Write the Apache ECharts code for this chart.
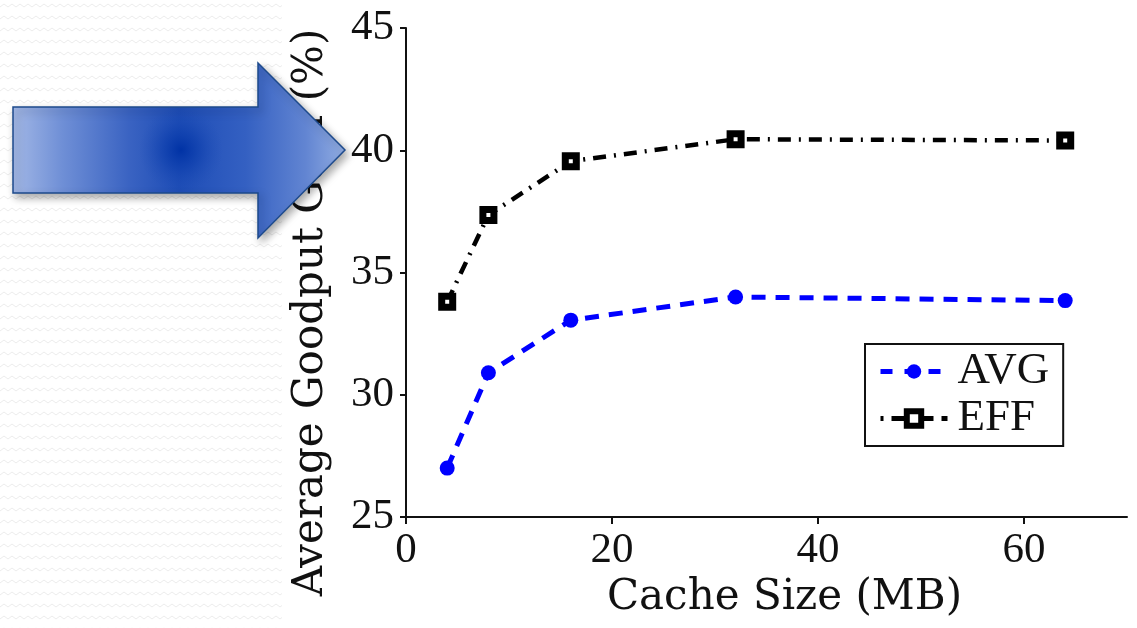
<!DOCTYPE html>
<html>
<head>
<meta charset="utf-8">
<title>Average Goodput Gain vs Cache Size</title>
<script src="https://cdn.jsdelivr.net/npm/echarts@6/dist/echarts.min.js"></script>
<style>
  html, body { margin: 0; padding: 0; background: #ffffff; }
  #wrap { position: relative; width: 1137px; height: 628px; }
  #texture {
    position: absolute; left: 0; top: 0; width: 282px; height: 628px;
    background-image: url("data:image/svg+xml;utf8,<svg xmlns='http://www.w3.org/2000/svg' width='8' height='12'><polyline points='0,7 4,4 8,7' fill='none' stroke='%23ececec' stroke-width='1'/></svg>");
    background-repeat: repeat;
  }
  #chart { position: absolute; left: 0; top: 0; width: 1137px; height: 628px; }
</style>
</head>
<body>
<div id="wrap">
  <div id="texture"></div>
  <div id="chart"></div>
</div>
<script>
// Cache sizes (MB) on the x axis
var cacheSizes = [4, 8, 16, 32, 64];
// Average goodput gain (%) per policy
var avgGain = [27.0, 30.9, 33.05, 34.0, 33.85];
var effGain = [33.8, 37.35, 39.55, 40.45, 40.4];
// Axis tick values
var xTicks = [0, 20, 40, 60];
var yTicks = [25, 30, 35, 40, 45];

function pairs(xs, ys) {
  return xs.map(function (x, i) { return [x, ys[i]]; });
}

var serif = 'Liberation Serif';
var nameFont = 'DejaVu Serif';

var chart = echarts.init(document.getElementById('chart'), null, { renderer: 'canvas' });

chart.setOption({
  backgroundColor: 'transparent',
  animation: false,
  grid: { left: 406, right: 10, top: 28, bottom: 111, containLabel: false },
  xAxis: {
    type: 'value',
    min: 0,
    max: 70,
    name: 'Cache Size (MB)',
    nameLocation: 'middle',
    nameGap: 50,
    nameTextStyle: { fontFamily: nameFont, fontSize: 42, color: '#111', padding: [0, 0, 0, 36] },
    axisLine: { show: true, lineStyle: { color: '#111', width: 2 } },
    axisTick: { show: true, length: 7, lineStyle: { color: '#111', width: 2 }, customValues: xTicks },
    axisLabel: { fontFamily: serif, fontSize: 43, color: '#111', margin: 12, customValues: xTicks },
    splitLine: { show: false }
  },
  yAxis: {
    type: 'value',
    min: yTicks[0],
    max: yTicks[yTicks.length - 1],
    interval: 5,
    name: 'Average Goodput Gain (%)',
    nameLocation: 'middle',
    nameRotate: 90,
    nameGap: 74,
    nameTextStyle: { fontFamily: nameFont, fontSize: 42, color: '#111', padding: [0, 80, 0, 0] },
    axisLine: { show: true, lineStyle: { color: '#111', width: 2 } },
    axisTick: { show: true, length: 6, lineStyle: { color: '#111', width: 2 } },
    axisLabel: { fontFamily: serif, fontSize: 43, color: '#111', margin: 12 },
    splitLine: { show: false }
  },
  legend: {
    orient: 'vertical',
    left: 865,
    top: 344,
    padding: [5, 14, 5, 13],
    itemGap: 2,
    itemWidth: 67,
    itemHeight: 18,
    borderColor: '#111',
    borderWidth: 2,
    backgroundColor: '#fff',
    textStyle: { fontFamily: serif, fontSize: 45, color: '#111', padding: [0, 0, 0, 5] },
    data: [
      {
        name: 'AVG',
        itemStyle: { color: '#0000ff' },
        lineStyle: { color: '#0000ff', width: 5, type: [12, 12] }
      },
      {
        name: 'EFF',
        itemStyle: { color: '#ffffff', borderColor: '#000000', borderWidth: 6 },
        lineStyle: { color: '#000000', width: 5, type: [3, 8, 14, 0] }
      }
    ]
  },
  series: [
    {
      name: 'AVG',
      type: 'line',
      data: pairs(cacheSizes, avgGain),
      symbol: 'circle',
      symbolSize: 15,
      itemStyle: { color: '#0000ff' },
      lineStyle: { color: '#0000ff', width: 5, type: [14, 10] }
    },
    {
      name: 'EFF',
      type: 'line',
      data: pairs(cacheSizes, effGain),
      symbol: 'rect',
      symbolSize: 11,
      itemStyle: { color: '#ffffff', borderColor: '#000000', borderWidth: 7 },
      lineStyle: { color: '#000000', width: 4.5, type: [13, 8, 2, 8] }
    }
  ],
  graphic: [
    {
      type: 'polygon',
      z: 100,
      shape: {
        points: [[13, 107], [258, 107], [258, 63], [345, 150], [258, 238], [258, 193], [13, 193]]
      },
      style: {
        fill: {
          type: 'linear', x: 0, y: 0, x2: 1, y2: 0,
          colorStops: [
            { offset: 0, color: '#a3b8e6' },
            { offset: 0.15, color: '#6f8fd6' },
            { offset: 0.35, color: '#3a63c2' },
            { offset: 0.5, color: '#1e4db6' },
            { offset: 0.7, color: '#3460c2' },
            { offset: 0.88, color: '#6285d2' },
            { offset: 1, color: '#93aee2' }
          ]
        },
        stroke: '#1d4a8c',
        lineWidth: 1.5,
        shadowBlur: 8,
        shadowOffsetX: 3,
        shadowOffsetY: 4,
        shadowColor: 'rgba(0,0,0,0.35)'
      }
    },
    {
      // dark core of the arrow's shading
      type: 'circle',
      z: 101,
      silent: true,
      shape: { cx: 181, cy: 150, r: 42 },
      style: {
        fill: {
          type: 'radial', x: 0.5, y: 0.5, r: 0.5,
          colorStops: [
            { offset: 0, color: 'rgba(0,50,165,1)' },
            { offset: 0.45, color: 'rgba(10,60,172,0.55)' },
            { offset: 1, color: 'rgba(30,77,182,0)' }
          ]
        }
      }
    }
  ]
});
</script>
</body>
</html>
